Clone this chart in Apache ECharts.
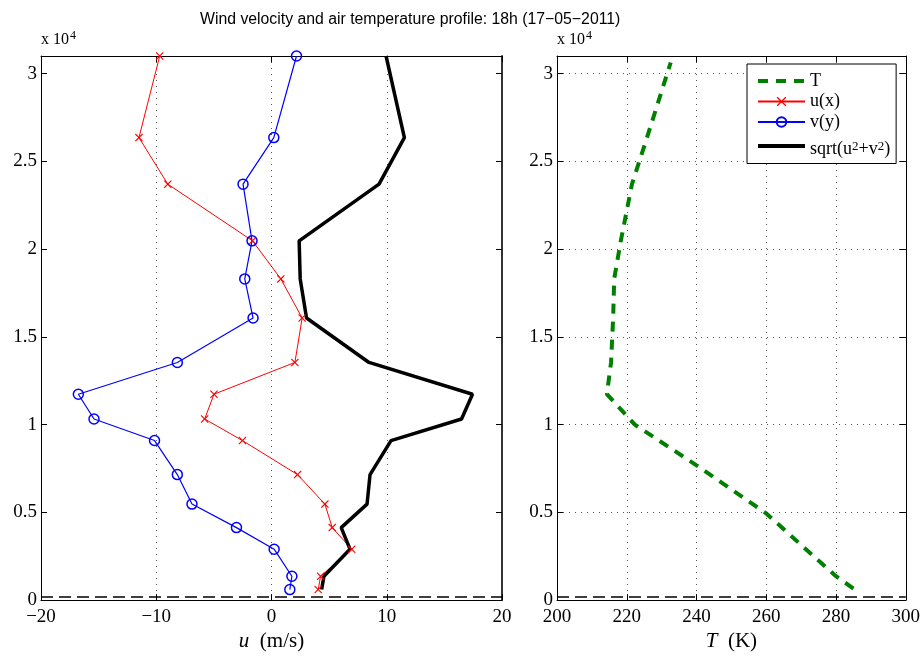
<!DOCTYPE html>
<html>
<head>
<meta charset="utf-8">
<script src="https://cdn.jsdelivr.net/npm/echarts@6/dist/echarts.min.js"></script>
<style>
  html, body { margin: 0; padding: 0; background: #fff; }
  #chart { width: 923px; height: 657px; }
</style>
</head>
<body>
<div id="chart"></div>
<script>
// altitude (m) of the sounding levels
const altitude = [600, 1360, 2900, 4130, 5470, 7150, 9090, 10320, 11730, 13540, 16070, 18300, 20470, 23700, 26350, 31000];
const uWind = [4.05, 4.26, 6.96, 5.27, 4.63, 2.26, -2.52, -5.8, -4.99, 2.03, 2.66, 0.81, -1.65, -9.0, -11.5, -9.7];
const vWind = [1.59, 1.77, 0.23, -3.04, -6.9, -8.17, -10.15, -15.4, -16.76, -8.17, -1.6, -2.32, -1.69, -2.47, 0.2, 2.17];
const speed = [4.35, 4.55, 6.81, 6.05, 8.29, 8.55, 10.37, 16.49, 17.44, 8.46, 3.04, 2.49, 2.4, 9.33, 11.53, 9.94];

// temperature profile
const tAltitude = [660, 1360, 3000, 4940, 7680, 10000, 10500, 11730, 13540, 16070, 18300, 20470, 23700, 26350, 30630];
const temperature = [285, 280, 270.8, 260, 240, 222.3, 220, 214.3, 215.5, 216.1, 216.4, 218.3, 221.5, 225.8, 232.6];

const groundLevel = 200;
const legendNames = ['T', 'u(x)', 'v(y)', 'sqrt(u\u00b2+v\u00b2)'];

const pairs = (xs, ys) => xs.map((x, i) => [x, ys[i]]);
const serif = 'Liberation Serif';
const crossPath = 'path://M0,1 L1,0 L5,4 L9,0 L10,1 L6,5 L10,9 L9,10 L5,6 L1,10 L0,9 L4,5 Z';

const chart = echarts.init(document.getElementById('chart'));

function axisBase(min, max, interval, extra) {
  return Object.assign({
    type: 'value',
    min: min,
    max: max,
    interval: interval,
    axisLine: { show: true, onZero: false, lineStyle: { color: '#000', width: 1 } },
    axisTick: { show: true, inside: true, length: 6, lineStyle: { color: '#000' } },
    axisLabel: { show: false },
    splitLine: { show: false }
  }, extra);
}

const dotted = { show: true, lineStyle: { color: '#555', type: [1, 5], width: 1 } };
const labelStyle = { show: true, color: '#000', fontFamily: serif, fontSize: 19 };
const nameStyle = { fontFamily: serif, fontSize: 21, color: '#000',
  rich: { i: { fontFamily: serif, fontSize: 21, fontStyle: 'italic' } } };
const minus = v => String(v).replace('-', '\u2212');
const exponent = { type: 'text', top: 30, style: { text: 'x 10{s|4}', font: '16px "Liberation Serif"', fill: '#000',
  rich: { s: { fontFamily: serif, fontSize: 12, verticalAlign: 'top', padding: [0, 0, 8, 1] } } } };

const option = {
  animation: false,
  backgroundColor: '#fff',
  title: {
    text: 'Wind velocity and air temperature profile: 18h (17\u221205\u22122011)',
    left: 195,
    top: 7,
    textStyle: { fontFamily: 'Liberation Sans', fontSize: 15.8, fontWeight: 'normal', color: '#000' }
  },
  grid: [
    { left: 41, top: 56, width: 461, height: 548 },
    { left: 557, top: 56, width: 351, height: 548 }
  ],
  xAxis: [
    axisBase(-20, 20, 10, {
      gridIndex: 0, position: 'bottom',
      axisLabel: Object.assign({ margin: 7, formatter: minus }, labelStyle),
      splitLine: dotted,
      name: '{i|u}  (m/s)', nameLocation: 'middle', nameGap: 27, nameTextStyle: nameStyle
    }),
    axisBase(-20, 20, 10, { gridIndex: 0, position: 'top' }),
    axisBase(200, 300, 20, {
      gridIndex: 1, position: 'bottom',
      axisLabel: Object.assign({ margin: 7 }, labelStyle),
      splitLine: dotted,
      name: '{i|T}  (K)', nameLocation: 'middle', nameGap: 27, nameTextStyle: nameStyle
    }),
    axisBase(200, 300, 20, { gridIndex: 1, position: 'top' })
  ],
  yAxis: [
    axisBase(0, 31000, 5000, {
      gridIndex: 0, position: 'left',
      axisLabel: Object.assign({ margin: 4, formatter: v => String(v / 10000) }, labelStyle)
    }),
    axisBase(0, 31000, 5000, { gridIndex: 0, position: 'right',
      axisLine: { show: true, onZero: false, lineStyle: { color: '#333', width: 2 } } }),
    axisBase(0, 31000, 5000, {
      gridIndex: 1, position: 'left',
      axisLabel: Object.assign({ margin: 4, formatter: v => String(v / 10000) }, labelStyle),
      splitLine: dotted
    }),
    axisBase(0, 31000, 5000, { gridIndex: 1, position: 'right' })
  ],
  legend: {
    data: [
      { name: legendNames[0], itemStyle: { opacity: 0 }, lineStyle: { width: 4 } },
      { name: legendNames[1] },
      { name: legendNames[2] },
      { name: legendNames[3], itemStyle: { opacity: 0 }, lineStyle: { width: 4 },
        textStyle: { padding: [7, 0, 0, 0] } }
    ],
    orient: 'vertical',
    left: 747,
    top: 64,
    padding: [8, 6, 4, 9],
    itemWidth: 47,
    itemHeight: 12,
    itemGap: 2.5,
    backgroundColor: '#fff',
    borderColor: '#000',
    borderWidth: 1,
    borderRadius: 0,
    formatter: name => name === legendNames[3] ? 'sqrt(u{s|2}+v{s|2})' : name,
    textStyle: { fontFamily: serif, fontSize: 18, color: '#000', lineHeight: 18,
      rich: { s: { fontFamily: serif, fontSize: 13, verticalAlign: 'top', lineHeight: 13, padding: [0, 0, 6, 0] } } }
  },
  graphic: [
    Object.assign({ left: 41 }, exponent),
    Object.assign({ left: 557 }, exponent)
  ],
  series: [
    {
      name: legendNames[0], type: 'line', xAxisIndex: 2, yAxisIndex: 2,
      data: pairs(temperature, tAltitude), symbol: 'none',
      lineStyle: { color: '#008000', width: 4, type: [10, 8] },
      itemStyle: { color: '#008000' },
      markLine: {
        silent: true, symbol: 'none', label: { show: false },
        lineStyle: { color: '#000', width: 1.5, type: [12, 6] },
        data: [{ yAxis: groundLevel }]
      }
    },
    {
      name: legendNames[1], type: 'line', xAxisIndex: 0, yAxisIndex: 0,
      data: pairs(uWind, altitude), symbol: crossPath, symbolSize: 8,
      lineStyle: { color: '#ff0000', width: 1 },
      itemStyle: { color: '#ff0000' }
    },
    {
      name: legendNames[2], type: 'line', xAxisIndex: 0, yAxisIndex: 0,
      data: pairs(vWind, altitude), symbol: 'circle', symbolSize: 10,
      lineStyle: { color: '#0000ff', width: 1.2 },
      itemStyle: { color: 'rgba(0,0,0,0)', borderColor: '#0000ff', borderWidth: 1.5 }
    },
    {
      name: legendNames[3], type: 'line', xAxisIndex: 0, yAxisIndex: 0,
      data: pairs(speed, altitude), symbol: 'none',
      lineStyle: { color: '#000', width: 3.5 },
      itemStyle: { color: '#000' },
      markLine: {
        silent: true, symbol: 'none', label: { show: false },
        lineStyle: { color: '#000', width: 1.5, type: [12, 6] },
        data: [{ yAxis: groundLevel }]
      }
    }
  ]
};

chart.setOption(option);
</script>
</body>
</html>
